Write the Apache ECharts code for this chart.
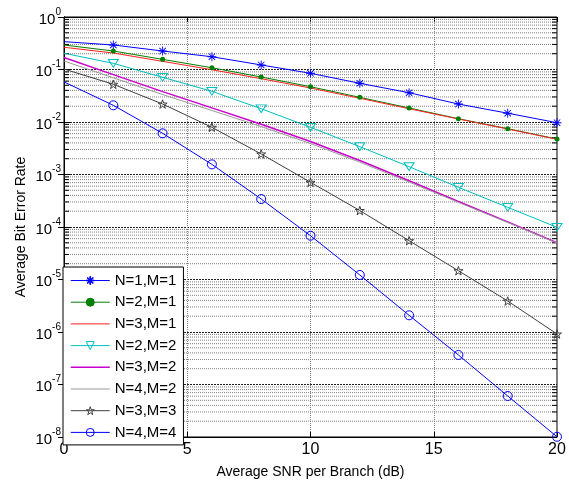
<!DOCTYPE html>
<html>
<head>
<meta charset="utf-8">
<script src="https://cdn.jsdelivr.net/npm/echarts@6/dist/echarts.min.js"></script>
<style>
  html, body { margin: 0; padding: 0; background: #ffffff; }
  #chart { width: 569px; height: 485px; }
</style>
</head>
<body>
<div id="chart"></div>
<script>
// Average SNR per branch (dB)
const snr = [0, 2, 4, 6, 8, 10, 12, 14, 16, 18, 20];
const xTicks = [0, 5, 10, 15, 20];

// Average bit error rate for each (N, M) configuration
const berN1M1 = [0.339, 0.293, 0.225, 0.175, 0.122, 0.0847, 0.0546, 0.0361, 0.0220, 0.0147, 0.0097];
const berN2M1 = [0.293, 0.225, 0.156, 0.108, 0.0720, 0.0470, 0.0295, 0.0185, 0.01156, 0.00745, 0.00474];
const berN3M1 = [0.265, 0.206, 0.143, 0.0990, 0.0668, 0.0444, 0.0283, 0.0179, 0.0114, 0.00736, 0.00468];
const berN2M2 = [0.204, 0.131, 0.0710, 0.0384, 0.0179, 0.00793, 0.00339, 0.00141, 0.00057, 0.000237, 0.0000986];
const berN3M2 = [0.169, 0.0800, 0.0379, 0.0186, 0.00904, 0.00425, 0.00185, 0.000759, 0.000306, 0.000125, 0.0000502];
const berN4M2 = [0.145, 0.0695, 0.0333, 0.01656, 0.00817, 0.00389, 0.00172, 0.000720, 0.000295, 0.000122, 0.0000496];
const berN3M3 = [0.102, 0.0523, 0.0220, 0.00792, 0.00246, 0.00071, 0.000206, 0.0000548, 0.0000147, 0.00000389, 0.000000916];
const berN4M4 = [0.058, 0.0208, 0.00609, 0.00156, 0.000341, 0.0000682, 0.0000122, 0.00000208, 0.000000365, 0.0000000604, 0.0000000101];

const seriesNames = ['N=1,M=1', 'N=2,M=1', 'N=3,M=1', 'N=2,M=2', 'N=3,M=2', 'N=4,M=2', 'N=3,M=3', 'N=4,M=4'];
// Curves drawn as plain lines, without markers
const plainLines = ['N=3,M=1', 'N=3,M=2', 'N=4,M=2'];

// Decades shown on the error-rate axis
const yMin = 1e-8;
const yMax = 1;

const FONT = 'Liberation Sans, Arial, sans-serif';

// Marker shapes
const asteriskPath = 'path://M9 0L11 0L11 20L9 20Z M0 9L20 9L20 11L0 11Z M2.2 3.6L3.6 2.2L17.8 16.4L16.4 17.8Z M16.4 2.2L17.8 3.6L3.6 17.8L2.2 16.4Z';
const starPath = 'path://M10 0L12.25 6.91L19.51 6.91L13.63 11.18L15.88 18.09L10 13.82L4.12 18.09L6.37 11.18L0.49 6.91L7.75 6.91Z';
const triDownPath = 'path://M0 0L20 0L10 17Z';

// The curves start at 0 dB without a marker; markers sit at 2 dB steps
function pairs(values) {
  return snr.map((x, i) => (i === 0 ? { value: [x, values[i]], symbol: 'none' } : [x, values[i]]));
}

// Minor grid values 2..9 x 10^k across the axis range
const minorGrid = [];
for (let k = -8; k < 0; k++) {
  for (let m = 2; m <= 9; m++) {
    minorGrid.push(m * Math.pow(10, k));
  }
}

function lineSeries(name, values, color, opts) {
  const o = opts || {};
  const sym = o.symbol || 'none';
  return {
    name: name,
    type: 'line',
    data: pairs(values),
    z: 3,
    symbol: sym,
    symbolSize: o.symbolSize || 6,
    symbolKeepAspect: true,
    showSymbol: sym !== 'none',
    lineStyle: { color: color, width: o.width || 1 },
    itemStyle: {
      color: o.filled ? color : 'rgba(255,255,255,0)',
      borderColor: color,
      borderWidth: o.filled ? 0 : 1
    },
    emphasis: { disabled: true },
    animation: false
  };
}

// Dotted minor grid lines with short inward ticks on both vertical edges
const gridHelper = {
  name: '__grid',
  type: 'custom',
  coordinateSystem: 'cartesian2d',
  data: minorGrid.map(v => [xTicks[0], v]),
  z: 1,
  silent: true,
  animation: false,
  renderItem: function (params, api) {
    const v = api.value(1);
    const p0 = api.coord([xTicks[0], v]);
    const p1 = api.coord([xTicks[xTicks.length - 1], v]);
    return {
      type: 'group',
      children: [
        { type: 'line', shape: { x1: p0[0], y1: p0[1], x2: p1[0], y2: p1[1] },
          style: { stroke: '#808080', lineWidth: 1, lineDash: [1, 1] } },
        { type: 'line', shape: { x1: p0[0], y1: p0[1], x2: p0[0] + 5, y2: p0[1] },
          style: { stroke: '#000', lineWidth: 1 } },
        { type: 'line', shape: { x1: p1[0] - 5, y1: p1[1], x2: p1[0], y2: p1[1] },
          style: { stroke: '#000', lineWidth: 1 } }
      ]
    };
  }
};

const legendData = seriesNames.map(name => (
  plainLines.indexOf(name) >= 0
    ? { name: name, itemStyle: { color: 'rgba(0,0,0,0)', borderColor: 'rgba(0,0,0,0)', borderWidth: 0 } }
    : { name: name }
));

const chart = echarts.init(document.getElementById('chart'), null, { renderer: 'canvas' });

chart.setOption({
  backgroundColor: '#ffffff',
  animation: false,
  textStyle: { fontFamily: FONT },
  grid: {
    left: 64, right: 12, top: 17, bottom: 48,
    show: true, borderColor: '#000', borderWidth: 1, backgroundColor: 'transparent'
  },
  xAxis: [{
    type: 'value',
    min: xTicks[0], max: xTicks[xTicks.length - 1], interval: 5,
    name: 'Average SNR per Branch (dB)',
    nameLocation: 'middle', nameGap: 28, nameMoveOverlap: false,
    nameTextStyle: { fontSize: 14, color: '#000', fontFamily: FONT },
    axisLine: { show: true, lineStyle: { color: '#000', width: 1 } },
    axisTick: { show: true, inside: true, length: 5, lineStyle: { color: '#000' } },
    axisLabel: { fontSize: 16, color: '#000', margin: 5, fontFamily: FONT, showMinLabel: true, showMaxLabel: true },
    splitLine: { show: true, lineStyle: { color: '#808080', type: [1, 1], width: 1 } }
  }, {
    type: 'value', position: 'top',
    min: xTicks[0], max: xTicks[xTicks.length - 1], interval: 5,
    axisLine: { show: true, lineStyle: { color: '#000', width: 1 } },
    axisTick: { show: true, inside: true, length: 5, lineStyle: { color: '#000' } },
    axisLabel: { show: false },
    splitLine: { show: false }
  }],
  yAxis: [{
    type: 'log', logBase: 10,
    min: yMin, max: yMax,
    name: 'Average Bit Error Rate',
    nameLocation: 'middle', nameGap: 36, nameRotate: 90, nameMoveOverlap: false,
    nameTextStyle: { fontSize: 14, color: '#000', fontFamily: FONT },
    axisLine: { show: true, lineStyle: { color: '#000', width: 1 } },
    axisTick: { show: true, inside: true, length: 6, lineStyle: { color: '#000' } },
    axisLabel: {
      margin: 3,
      formatter: function (v) {
        const e = Math.round(Math.log10(v));
        return '{b|10}{s|' + (e < 0 ? '-' + (-e) : e) + '}';
      },
      rich: {
        b: { fontSize: 15, color: '#000', fontFamily: FONT, lineHeight: 20, verticalAlign: 'bottom' },
        s: { fontSize: 10, color: '#000', fontFamily: FONT, lineHeight: 20, verticalAlign: 'top' }
      }
    },
    splitLine: { show: true, lineStyle: { color: '#222', type: [2, 1], width: 1 } }
  }, {
    type: 'log', logBase: 10, position: 'right',
    min: yMin, max: yMax,
    axisLine: { show: true, lineStyle: { color: '#000', width: 1 } },
    axisTick: { show: true, inside: true, length: 6, lineStyle: { color: '#000' } },
    axisLabel: { show: false },
    splitLine: { show: false }
  }],
  legend: {
    data: legendData,
    orient: 'vertical',
    left: 63, top: 267,
    padding: [6, 7, 5, 7],
    itemWidth: 39, itemHeight: 10, itemGap: 6.7,
    backgroundColor: '#ffffff',
    borderColor: '#000', borderWidth: 1, borderRadius: 0,
    selectedMode: false,
    z: 10,
    itemStyle: { borderWidth: 1 },
    lineStyle: { width: 'inherit' },
    textStyle: { fontSize: 15, color: '#000', fontFamily: FONT, lineHeight: 15 }
  },
  series: [
    gridHelper,
    lineSeries('N=1,M=1', berN1M1, '#0000ff', { symbol: asteriskPath, symbolSize: 9, filled: true }),
    lineSeries('N=2,M=1', berN2M1, '#008000', { symbol: 'circle', symbolSize: 5, filled: true }),
    lineSeries('N=3,M=1', berN3M1, '#ff2020', {}),
    lineSeries('N=2,M=2', berN2M2, '#00c0c0', { symbol: triDownPath, symbolSize: [10, 9] }),
    lineSeries('N=3,M=2', berN3M2, '#cc00cc', { width: 1.5 }),
    lineSeries('N=4,M=2', berN4M2, '#999999', {}),
    lineSeries('N=3,M=3', berN3M3, '#404040', { symbol: starPath, symbolSize: 9 }),
    lineSeries('N=4,M=4', berN4M4, '#0000ff', { symbol: 'circle', symbolSize: 9 })
  ]
});
</script>
</body>
</html>
